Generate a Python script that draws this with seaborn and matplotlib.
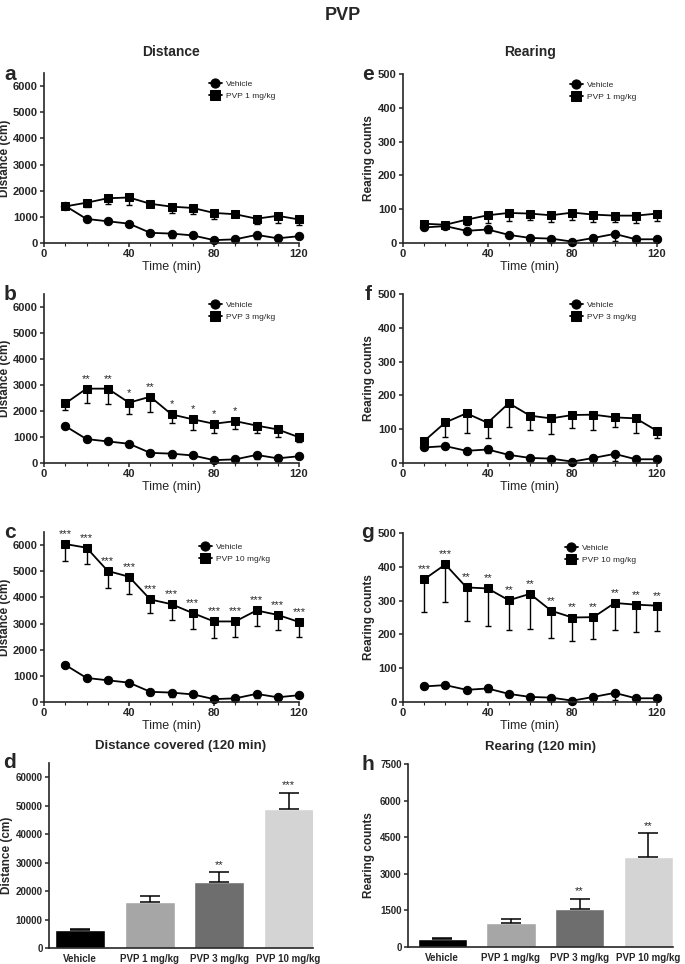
import numpy as np
import pandas as pd
import matplotlib
matplotlib.use("Agg")
import matplotlib.pyplot as plt
import seaborn as sns
from matplotlib.ticker import MultipleLocator

# time course, 10-min bins
time_min = [10, 20, 30, 40, 50, 60, 70, 80, 90, 100, 110, 120]

# distance (cm)
veh_dist = [1420, 920, 830, 740, 390, 360, 290, 110, 140, 310, 180, 260]
veh_dist_err = [60, 80, 60, 80, 110, 150, 70, 50, 80, 150, 80, 60]
pvp1_dist = [1400, 1540, 1710, 1740, 1500, 1390, 1340, 1150, 1100, 930, 1040, 900]
pvp1_dist_err = [80, 160, 200, 290, 80, 250, 230, 230, 100, 200, 290, 210]
pvp3_dist = [2290, 2860, 2860, 2320, 2550, 1870, 1680, 1510, 1610, 1440, 1290, 990]
pvp3_dist_err = [250, 550, 600, 450, 590, 350, 400, 350, 320, 280, 290, 200]
pvp10_dist = [6040, 5900, 5010, 4790, 3920, 3740, 3400, 3080, 3080, 3500, 3330, 3060]
pvp10_dist_err = [650, 620, 650, 650, 520, 600, 590, 620, 600, 580, 590, 590]

# rearing counts
veh_rear = [46, 50, 36, 40, 24, 15, 13, 4, 15, 27, 11, 11]
veh_rear_err = [5, 5, 5, 10, 10, 5, 5, 3, 10, 20, 5, 5]
pvp1_rear = [57, 54, 69, 82, 89, 87, 82, 90, 84, 81, 81, 87]
pvp1_rear_err = [8, 8, 15, 22, 25, 20, 20, 22, 22, 20, 22, 22]
pvp3_rear = [65, 120, 147, 119, 177, 140, 132, 142, 143, 135, 132, 95]
pvp3_rear_err = [10, 43, 58, 46, 71, 41, 45, 39, 44, 29, 42, 22]
pvp10_rear = [363, 407, 339, 336, 301, 320, 270, 250, 251, 293, 288, 285]
pvp10_rear_err = [96, 110, 100, 110, 87, 105, 82, 70, 65, 80, 80, 76]

sig_b = ["", "**", "**", "*", "**", "*", "*", "*", "*", "", "", ""]
sig_c = ["***"] * 12
sig_g = ["***", "***"] + ["**"] * 10
no_sig = [""] * 12

# totals over 120 min
groups = ["Vehicle", "PVP 1 mg/kg", "PVP 3 mg/kg", "PVP 10 mg/kg"]
total_dist = [6200, 16300, 23300, 48800]
total_dist_err = [400, 2000, 3400, 5800]
total_rear = [315, 987, 1577, 3700]
total_rear_err = [50, 165, 410, 975]
sig_d = ["", "", "**", "***"]
sig_h = ["", "", "**", "**"]
bar_colors = ["#000000", "#a6a6a6", "#6e6e6e", "#d4d4d4"]

sns.set_style("ticks")
plt.rcParams["font.family"] = ["Liberation Sans", "DejaVu Sans"]

W, H = 685, 964
fig = plt.figure(figsize=(W / 100, H / 100), dpi=100)


def box(x0, x1, y0, y1):
    # pixel box -> figure fraction
    return [x0 / W, 1 - y1 / H, (x1 - x0) / W, (y1 - y0) / H]


def style_axis(ax, tick_size):
    sns.despine(ax=ax)
    for s in ["left", "bottom"]:
        ax.spines[s].set_linewidth(1.2)
    ax.tick_params(axis="both", which="major", length=3, width=1.1,
                   labelsize=tick_size, pad=1.5)
    for lab in ax.get_xticklabels() + ax.get_yticklabels():
        lab.set_fontweight("bold")


def line_panel(ax, dose, dose_err, veh, veh_err, dose_label, ymax, ystep,
               ylabel, sig, legend_anchor, label_x):
    df = pd.DataFrame({
        "time": time_min * 2,
        "value": veh + dose,
        "group": ["Vehicle"] * len(veh) + [dose_label] * len(dose),
    })
    sns.lineplot(data=df, x="time", y="value", hue="group", style="group",
                 markers={"Vehicle": "o", dose_label: "s"}, dashes=False,
                 palette=["black", "black"], markersize=6, linewidth=1.3,
                 markeredgecolor="black", ax=ax)
    for vals, err in [(veh, veh_err), (dose, dose_err)]:
        ax.errorbar(time_min, vals, yerr=[err, np.zeros(len(err))], fmt="none",
                    ecolor="black", elinewidth=1, capsize=2.5, capthick=1,
                    clip_on=False)
    for ln in ax.lines:
        ln.set_clip_on(False)
    for t, v, s in zip(time_min, dose, sig):
        if s:
            ax.annotate(s, (t, v), xytext=(0, 5), textcoords="offset points",
                        ha="center", va="baseline", fontsize=8)
    ax.set_xlim(0, 120)
    ax.set_ylim(0, ymax)
    ax.set_xticks([0, 40, 80, 120])
    ax.xaxis.set_minor_locator(MultipleLocator(10))
    ax.tick_params(axis="x", which="minor", length=2, width=0.8)
    ax.set_yticks([v for v in range(0, ymax + 1, ystep)])
    ax.set_xlabel("Time (min)", fontsize=9, labelpad=1)
    ax.set_ylabel(ylabel, fontsize=8.5, fontweight="bold")
    ax.yaxis.set_label_coords(label_x, 0.5)
    ax.legend(frameon=False, fontsize=6, loc="upper left",
              bbox_to_anchor=legend_anchor, handlelength=1.6,
              handletextpad=0.5, labelspacing=0.5, borderpad=0,
              markerscale=1.1)
    style_axis(ax, 8)


def bar_panel(ax, vals, errs, sig, ymax, ystep, ylabel, title, xlim):
    sns.barplot(x=groups, y=vals, hue=groups, palette=bar_colors, legend=False,
                saturation=1, width=0.72, ax=ax)
    ax.errorbar(range(len(groups)), vals, yerr=[np.zeros(len(errs)), errs],
                fmt="none", ecolor="black", elinewidth=1.1, capsize=7,
                capthick=1.1)
    for i, (v, e, s) in enumerate(zip(vals, errs, sig)):
        if s:
            ax.annotate(s, (i, v + e), xytext=(0, 3), textcoords="offset points",
                        ha="center", va="baseline", fontsize=8)
    ax.set_xlim(*xlim)
    ax.set_ylim(0, ymax)
    ax.set_yticks([v for v in range(0, ymax + 1, ystep)])
    ax.set_ylabel(ylabel, fontsize=8.5, fontweight="bold")
    ax.set_title(title, fontsize=9.5, fontweight="bold", pad=10)
    style_axis(ax, 7)
    ax.tick_params(axis="x", length=0, pad=4)


ax_a = fig.add_axes(box(44, 299, 73, 243))
ax_b = fig.add_axes(box(44, 299, 294, 463))
ax_c = fig.add_axes(box(44, 299, 532, 702))
ax_e = fig.add_axes(box(403, 657, 74, 243))
ax_f = fig.add_axes(box(403, 657, 294, 463))
ax_g = fig.add_axes(box(403, 657, 533, 702))
ax_d = fig.add_axes(box(49, 313, 763, 948))
ax_h = fig.add_axes(box(408, 673, 764, 947))

line_panel(ax_a, pvp1_dist, pvp1_dist_err, veh_dist, veh_dist_err,
           "PVP 1 mg/kg", 6500, 1000, "Distance (cm)", no_sig, (0.63, 0.98),
           -0.128)
line_panel(ax_b, pvp3_dist, pvp3_dist_err, veh_dist, veh_dist_err,
           "PVP 3 mg/kg", 6500, 1000, "Distance (cm)", sig_b, (0.63, 0.98),
           -0.128)
line_panel(ax_c, pvp10_dist, pvp10_dist_err, veh_dist, veh_dist_err,
           "PVP 10 mg/kg", 6500, 1000, "Distance (cm)", sig_c, (0.59, 0.96),
           -0.128)
line_panel(ax_e, pvp1_rear, pvp1_rear_err, veh_rear, veh_rear_err,
           "PVP 1 mg/kg", 500, 100, "Rearing counts", no_sig, (0.64, 0.98),
           -0.11)
line_panel(ax_f, pvp3_rear, pvp3_rear_err, veh_rear, veh_rear_err,
           "PVP 3 mg/kg", 500, 100, "Rearing counts", no_sig, (0.64, 0.98),
           -0.11)
line_panel(ax_g, pvp10_rear, pvp10_rear_err, veh_rear, veh_rear_err,
           "PVP 10 mg/kg", 500, 100, "Rearing counts", sig_g, (0.62, 0.96),
           -0.11)

bar_panel(ax_d, total_dist, total_dist_err, sig_d, 65000, 10000,
          "Distance (cm)", "Distance covered (120 min)", (-0.45, 3.35))
bar_panel(ax_h, total_rear, total_rear_err, sig_h, 7500, 1500,
          "Rearing counts", "Rearing (120 min)", (-0.5, 3.36))
ax_d.yaxis.set_label_coords(-0.135, 0.5)
ax_h.yaxis.set_label_coords(-0.125, 0.5)

fig.text(0.5, 1 - 16 / H, "PVP", ha="center", va="center", fontsize=13,
         fontweight="bold")
fig.text(171 / W, 1 - 52 / H, "Distance", ha="center", va="center",
         fontsize=10, fontweight="bold")
fig.text(530 / W, 1 - 52 / H, "Rearing", ha="center", va="center",
         fontsize=10, fontweight="bold")

letters = [("a", 10, 75), ("b", 10, 295), ("c", 10, 533), ("d", 10, 763),
           ("e", 368, 75), ("f", 368, 295), ("g", 368, 533), ("h", 368, 765)]
for lt, x, y in letters:
    fig.text(x / W, 1 - y / H, lt, ha="center", va="center", fontsize=15,
             fontweight="bold")

fig.savefig("out.png", dpi=100)
